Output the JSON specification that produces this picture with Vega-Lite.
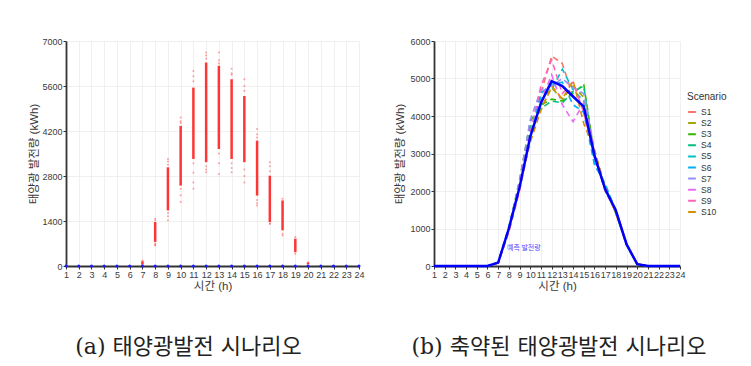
{
  "$schema": "https://vega.github.io/schema/vega-lite/v6.json",
  "padding": {"left": 28, "top": 37, "right": 5, "bottom": 5},
  "background": "white",
  "spacing": 29,
  "config": {
    "font": "Liberation Sans, Noto Sans CJK KR",
    "view": {"stroke": null},
    "axis": {
      "labelFont": "Liberation Sans",
      "labelFontSize": 9,
      "labelColor": "#3a3a3a",
      "labelOverlap": false,
      "tickCount": 40,
      "titleFont": "Liberation Sans, Noto Sans CJK KR",
      "titleFontSize": 11.5,
      "titleFontWeight": "normal",
      "titleColor": "#3a3a3a",
      "gridColor": "#ececec",
      "gridWidth": 0.8,
      "domainColor": "#333333",
      "domainWidth": 1.8,
      "tickColor": "#333333",
      "tickSize": 3,
      "labelPadding": 1
    },
    "title": {
      "font": "DejaVu Serif, Noto Sans CJK KR",
      "fontSize": 22,
      "fontWeight": "normal",
      "color": "#222222"
    }
  },
  "datasets": {
    "strip": [
      {"hour": 7, "lo": 40, "hi": 150},
      {"hour": 8, "lo": 750, "hi": 1370},
      {"hour": 9, "lo": 1730, "hi": 3070},
      {"hour": 10, "lo": 2500, "hi": 4360},
      {"hour": 11, "lo": 3330, "hi": 5550},
      {"hour": 12, "lo": 3230, "hi": 6330},
      {"hour": 13, "lo": 3640, "hi": 6230},
      {"hour": 14, "lo": 3330, "hi": 5810},
      {"hour": 15, "lo": 3230, "hi": 5290},
      {"hour": 16, "lo": 2190, "hi": 3900},
      {"hour": 17, "lo": 1370, "hi": 2810},
      {"hour": 18, "lo": 1110, "hi": 2040},
      {"hour": 19, "lo": 430, "hi": 850},
      {"hour": 20, "lo": 50, "hi": 110}
    ],
    "pts": [
      {"hour": 7, "v": 170},
      {"hour": 8, "v": 1470}, {"hour": 8, "v": 1420}, {"hour": 8, "v": 700}, {"hour": 8, "v": 660}, {"hour": 8, "v": 640},
      {"hour": 9, "v": 3330}, {"hour": 9, "v": 3250}, {"hour": 9, "v": 3150}, {"hour": 9, "v": 1650}, {"hour": 9, "v": 1550}, {"hour": 9, "v": 1420},
      {"hour": 10, "v": 4620}, {"hour": 10, "v": 4500}, {"hour": 10, "v": 4450}, {"hour": 10, "v": 2400}, {"hour": 10, "v": 2200}, {"hour": 10, "v": 1990},
      {"hour": 11, "v": 6070}, {"hour": 11, "v": 5900}, {"hour": 11, "v": 5750}, {"hour": 11, "v": 3200}, {"hour": 11, "v": 2900}, {"hour": 11, "v": 2600}, {"hour": 11, "v": 2400},
      {"hour": 12, "v": 6640}, {"hour": 12, "v": 6550}, {"hour": 12, "v": 6450}, {"hour": 12, "v": 3100}, {"hour": 12, "v": 3000}, {"hour": 12, "v": 2920},
      {"hour": 13, "v": 6640}, {"hour": 13, "v": 6400}, {"hour": 13, "v": 6300}, {"hour": 13, "v": 3500}, {"hour": 13, "v": 3200}, {"hour": 13, "v": 2860},
      {"hour": 14, "v": 6140}, {"hour": 14, "v": 6000}, {"hour": 14, "v": 5950}, {"hour": 14, "v": 3200}, {"hour": 14, "v": 3050}, {"hour": 14, "v": 2920},
      {"hour": 15, "v": 5810}, {"hour": 15, "v": 5600}, {"hour": 15, "v": 5450}, {"hour": 15, "v": 3000}, {"hour": 15, "v": 2800}, {"hour": 15, "v": 2600},
      {"hour": 16, "v": 4260}, {"hour": 16, "v": 4100}, {"hour": 16, "v": 4000}, {"hour": 16, "v": 2050}, {"hour": 16, "v": 1950}, {"hour": 16, "v": 1880},
      {"hour": 17, "v": 3230}, {"hour": 17, "v": 3100}, {"hour": 17, "v": 2950}, {"hour": 17, "v": 1330}, {"hour": 17, "v": 1310},
      {"hour": 18, "v": 2090}, {"hour": 18, "v": 1000}, {"hour": 18, "v": 950},
      {"hour": 19, "v": 900}, {"hour": 19, "v": 380},
      {"hour": 20, "v": 120}
    ],
    "zero": [
      {"hour": 1, "v": 0}, {"hour": 2, "v": 0}, {"hour": 3, "v": 0}, {"hour": 4, "v": 0}, {"hour": 5, "v": 0}, {"hour": 6, "v": 0},
      {"hour": 7, "v": 0}, {"hour": 8, "v": 0}, {"hour": 9, "v": 0}, {"hour": 10, "v": 0}, {"hour": 11, "v": 0}, {"hour": 12, "v": 0},
      {"hour": 13, "v": 0}, {"hour": 14, "v": 0}, {"hour": 15, "v": 0}, {"hour": 16, "v": 0}, {"hour": 17, "v": 0}, {"hour": 18, "v": 0},
      {"hour": 19, "v": 0}, {"hour": 20, "v": 0}, {"hour": 21, "v": 0}, {"hour": 22, "v": 0}, {"hour": 23, "v": 0}, {"hour": 24, "v": 0}
    ],
    "pred": [
      {"hour": 1, "v": 0}, {"hour": 2, "v": 0}, {"hour": 3, "v": 0}, {"hour": 4, "v": 0}, {"hour": 5, "v": 0}, {"hour": 6, "v": 0},
      {"hour": 7, "v": 90}, {"hour": 8, "v": 1000}, {"hour": 9, "v": 2100}, {"hour": 10, "v": 3450}, {"hour": 11, "v": 4350}, {"hour": 12, "v": 4930},
      {"hour": 13, "v": 4800}, {"hour": 14, "v": 4520}, {"hour": 15, "v": 4250}, {"hour": 16, "v": 2950}, {"hour": 17, "v": 2050}, {"hour": 18, "v": 1480},
      {"hour": 19, "v": 580}, {"hour": 20, "v": 50}, {"hour": 21, "v": 0}, {"hour": 22, "v": 0}, {"hour": 23, "v": 0}, {"hour": 24, "v": 0}
    ],
    "label": [{"hour": 9.4, "v": 480, "t": "예측 발전량"}],
    "scen": [
      {"s": "S1", "hour": 1, "v": 0}, {"s": "S1", "hour": 6, "v": 0}, {"s": "S1", "hour": 7, "v": 90}, {"s": "S1", "hour": 8, "v": 1050}, {"s": "S1", "hour": 9, "v": 2200}, {"s": "S1", "hour": 10, "v": 3500}, {"s": "S1", "hour": 11, "v": 4600}, {"s": "S1", "hour": 12, "v": 5600}, {"s": "S1", "hour": 13, "v": 5400}, {"s": "S1", "hour": 14, "v": 4500}, {"s": "S1", "hour": 15, "v": 4300}, {"s": "S1", "hour": 16, "v": 2900}, {"s": "S1", "hour": 17, "v": 2100}, {"s": "S1", "hour": 18, "v": 1450}, {"s": "S1", "hour": 19, "v": 600}, {"s": "S1", "hour": 20, "v": 60}, {"s": "S1", "hour": 21, "v": 0}, {"s": "S1", "hour": 24, "v": 0},
      {"s": "S2", "hour": 1, "v": 0}, {"s": "S2", "hour": 6, "v": 0}, {"s": "S2", "hour": 7, "v": 80}, {"s": "S2", "hour": 8, "v": 950}, {"s": "S2", "hour": 9, "v": 2050}, {"s": "S2", "hour": 10, "v": 3600}, {"s": "S2", "hour": 11, "v": 4200}, {"s": "S2", "hour": 12, "v": 4750}, {"s": "S2", "hour": 13, "v": 4450}, {"s": "S2", "hour": 14, "v": 4800}, {"s": "S2", "hour": 15, "v": 4500}, {"s": "S2", "hour": 16, "v": 3000}, {"s": "S2", "hour": 17, "v": 2000}, {"s": "S2", "hour": 18, "v": 1500}, {"s": "S2", "hour": 19, "v": 570}, {"s": "S2", "hour": 20, "v": 50}, {"s": "S2", "hour": 21, "v": 0}, {"s": "S2", "hour": 24, "v": 0},
      {"s": "S3", "hour": 1, "v": 0}, {"s": "S3", "hour": 6, "v": 0}, {"s": "S3", "hour": 7, "v": 90}, {"s": "S3", "hour": 8, "v": 1000}, {"s": "S3", "hour": 9, "v": 2300}, {"s": "S3", "hour": 10, "v": 3850}, {"s": "S3", "hour": 11, "v": 4300}, {"s": "S3", "hour": 12, "v": 4450}, {"s": "S3", "hour": 13, "v": 4400}, {"s": "S3", "hour": 14, "v": 4600}, {"s": "S3", "hour": 15, "v": 4850}, {"s": "S3", "hour": 16, "v": 2950}, {"s": "S3", "hour": 17, "v": 2100}, {"s": "S3", "hour": 18, "v": 1400}, {"s": "S3", "hour": 19, "v": 590}, {"s": "S3", "hour": 20, "v": 50}, {"s": "S3", "hour": 21, "v": 0}, {"s": "S3", "hour": 24, "v": 0},
      {"s": "S4", "hour": 1, "v": 0}, {"s": "S4", "hour": 6, "v": 0}, {"s": "S4", "hour": 7, "v": 85}, {"s": "S4", "hour": 8, "v": 950}, {"s": "S4", "hour": 9, "v": 2100}, {"s": "S4", "hour": 10, "v": 3700}, {"s": "S4", "hour": 11, "v": 4200}, {"s": "S4", "hour": 12, "v": 4400}, {"s": "S4", "hour": 13, "v": 4350}, {"s": "S4", "hour": 14, "v": 4650}, {"s": "S4", "hour": 15, "v": 4800}, {"s": "S4", "hour": 16, "v": 2900}, {"s": "S4", "hour": 17, "v": 2050}, {"s": "S4", "hour": 18, "v": 1450}, {"s": "S4", "hour": 19, "v": 560}, {"s": "S4", "hour": 20, "v": 50}, {"s": "S4", "hour": 21, "v": 0}, {"s": "S4", "hour": 24, "v": 0},
      {"s": "S5", "hour": 1, "v": 0}, {"s": "S5", "hour": 6, "v": 0}, {"s": "S5", "hour": 7, "v": 90}, {"s": "S5", "hour": 8, "v": 1000}, {"s": "S5", "hour": 9, "v": 2150}, {"s": "S5", "hour": 10, "v": 3500}, {"s": "S5", "hour": 11, "v": 4500}, {"s": "S5", "hour": 12, "v": 4700}, {"s": "S5", "hour": 13, "v": 5250}, {"s": "S5", "hour": 14, "v": 4700}, {"s": "S5", "hour": 15, "v": 4400}, {"s": "S5", "hour": 16, "v": 2750}, {"s": "S5", "hour": 17, "v": 2150}, {"s": "S5", "hour": 18, "v": 1500}, {"s": "S5", "hour": 19, "v": 580}, {"s": "S5", "hour": 20, "v": 50}, {"s": "S5", "hour": 21, "v": 0}, {"s": "S5", "hour": 24, "v": 0},
      {"s": "S6", "hour": 1, "v": 0}, {"s": "S6", "hour": 6, "v": 0}, {"s": "S6", "hour": 7, "v": 95}, {"s": "S6", "hour": 8, "v": 1050}, {"s": "S6", "hour": 9, "v": 2200}, {"s": "S6", "hour": 10, "v": 3550}, {"s": "S6", "hour": 11, "v": 4600}, {"s": "S6", "hour": 12, "v": 4850}, {"s": "S6", "hour": 13, "v": 4900}, {"s": "S6", "hour": 14, "v": 4300}, {"s": "S6", "hour": 15, "v": 4100}, {"s": "S6", "hour": 16, "v": 2700}, {"s": "S6", "hour": 17, "v": 2200}, {"s": "S6", "hour": 18, "v": 1450}, {"s": "S6", "hour": 19, "v": 600}, {"s": "S6", "hour": 20, "v": 55}, {"s": "S6", "hour": 21, "v": 0}, {"s": "S6", "hour": 24, "v": 0},
      {"s": "S7", "hour": 1, "v": 0}, {"s": "S7", "hour": 6, "v": 0}, {"s": "S7", "hour": 7, "v": 90}, {"s": "S7", "hour": 8, "v": 1000}, {"s": "S7", "hour": 9, "v": 2250}, {"s": "S7", "hour": 10, "v": 3900}, {"s": "S7", "hour": 11, "v": 4700}, {"s": "S7", "hour": 12, "v": 4800}, {"s": "S7", "hour": 13, "v": 5000}, {"s": "S7", "hour": 14, "v": 4750}, {"s": "S7", "hour": 15, "v": 4600}, {"s": "S7", "hour": 16, "v": 3100}, {"s": "S7", "hour": 17, "v": 2050}, {"s": "S7", "hour": 18, "v": 1500}, {"s": "S7", "hour": 19, "v": 590}, {"s": "S7", "hour": 20, "v": 50}, {"s": "S7", "hour": 21, "v": 0}, {"s": "S7", "hour": 24, "v": 0},
      {"s": "S8", "hour": 1, "v": 0}, {"s": "S8", "hour": 6, "v": 0}, {"s": "S8", "hour": 7, "v": 80}, {"s": "S8", "hour": 8, "v": 900}, {"s": "S8", "hour": 9, "v": 2000}, {"s": "S8", "hour": 10, "v": 3400}, {"s": "S8", "hour": 11, "v": 4400}, {"s": "S8", "hour": 12, "v": 5100}, {"s": "S8", "hour": 13, "v": 4300}, {"s": "S8", "hour": 14, "v": 3850}, {"s": "S8", "hour": 15, "v": 4350}, {"s": "S8", "hour": 16, "v": 3050}, {"s": "S8", "hour": 17, "v": 2000}, {"s": "S8", "hour": 18, "v": 1450}, {"s": "S8", "hour": 19, "v": 560}, {"s": "S8", "hour": 20, "v": 45}, {"s": "S8", "hour": 21, "v": 0}, {"s": "S8", "hour": 24, "v": 0},
      {"s": "S9", "hour": 1, "v": 0}, {"s": "S9", "hour": 6, "v": 0}, {"s": "S9", "hour": 7, "v": 90}, {"s": "S9", "hour": 8, "v": 1000}, {"s": "S9", "hour": 9, "v": 2150}, {"s": "S9", "hour": 10, "v": 3550}, {"s": "S9", "hour": 11, "v": 4800}, {"s": "S9", "hour": 12, "v": 5500}, {"s": "S9", "hour": 13, "v": 4600}, {"s": "S9", "hour": 14, "v": 4900}, {"s": "S9", "hour": 15, "v": 4100}, {"s": "S9", "hour": 16, "v": 2950}, {"s": "S9", "hour": 17, "v": 2050}, {"s": "S9", "hour": 18, "v": 1500}, {"s": "S9", "hour": 19, "v": 600}, {"s": "S9", "hour": 20, "v": 50}, {"s": "S9", "hour": 21, "v": 0}, {"s": "S9", "hour": 24, "v": 0},
      {"s": "S10", "hour": 1, "v": 0}, {"s": "S10", "hour": 6, "v": 0}, {"s": "S10", "hour": 7, "v": 85}, {"s": "S10", "hour": 8, "v": 950}, {"s": "S10", "hour": 9, "v": 2100}, {"s": "S10", "hour": 10, "v": 3300}, {"s": "S10", "hour": 11, "v": 4150}, {"s": "S10", "hour": 12, "v": 4800}, {"s": "S10", "hour": 13, "v": 4450}, {"s": "S10", "hour": 14, "v": 4950}, {"s": "S10", "hour": 15, "v": 3800}, {"s": "S10", "hour": 16, "v": 3100}, {"s": "S10", "hour": 17, "v": 2100}, {"s": "S10", "hour": 18, "v": 1400}, {"s": "S10", "hour": 19, "v": 570}, {"s": "S10", "hour": 20, "v": 50}, {"s": "S10", "hour": 21, "v": 0}, {"s": "S10", "hour": 24, "v": 0}
    ]
  },
  "hconcat": [
    {
      "width": 293,
      "height": 225,
      "title": {"text": "(a) 태양광발전 시나리오", "orient": "bottom", "anchor": "middle", "frame": "bounds", "offset": 45, "dx": -8},
      "layer": [
        {
          "data": {"name": "strip"},
          "mark": {"type": "rule", "color": "#ff2020", "strokeWidth": 2.5, "opacity": 0.9},
          "encoding": {
            "x": {"field": "hour", "type": "quantitative", "scale": {"domain": [1, 24], "nice": false, "zero": false},
                  "axis": {"title": "시간 (h)", "values": [1,2,3,4,5,6,7,8,9,10,11,12,13,14,15,16,17,18,19,20,21,22,23,24], "tickCount": 40, "format": "d", "titlePadding": 1, "labelFlush": false, "labelOverlap": false}},
            "y": {"field": "lo", "type": "quantitative", "scale": {"domain": [0, 7000], "nice": false},
                  "axis": {"title": "태양광 발전량 (kWh)", "values": [0, 1400, 2800, 4200, 5600, 7000], "tickCount": 40, "format": "d", "titlePadding": 2, "labelOverlap": false}},
            "y2": {"field": "hi"}
          }
        },
        {
          "data": {"name": "pts"},
          "mark": {"type": "circle", "color": "#ff3030", "size": 4, "opacity": 0.45},
          "encoding": {
            "x": {"field": "hour", "type": "quantitative"},
            "y": {"field": "v", "type": "quantitative"}
          }
        },
        {
          "data": {"name": "zero"},
          "mark": {"type": "circle", "color": "#1a1aff", "size": 9, "opacity": 1},
          "encoding": {
            "x": {"field": "hour", "type": "quantitative"},
            "y": {"field": "v", "type": "quantitative"}
          }
        }
      ]
    },
    {
      "width": 246,
      "height": 225,
      "title": {"text": "(b) 축약된 태양광발전 시나리오", "orient": "bottom", "anchor": "middle", "frame": "bounds", "offset": 45, "dx": 19},
      "layer": [
        {
          "data": {"name": "scen"},
          "mark": {"type": "line", "strokeWidth": 1.6, "strokeDash": [6, 4]},
          "encoding": {
            "x": {"field": "hour", "type": "quantitative", "scale": {"domain": [1, 24], "nice": false, "zero": false},
                  "axis": {"title": "시간 (h)", "values": [1,2,3,4,5,6,7,8,9,10,11,12,13,14,15,16,17,18,19,20,21,22,23,24], "tickCount": 40, "format": "d", "titlePadding": 1, "labelFlush": false, "labelOverlap": false}},
            "y": {"field": "v", "type": "quantitative", "scale": {"domain": [0, 6000], "nice": false},
                  "axis": {"title": "태양광 발전량 (kWh)", "values": [0, 1000, 2000, 3000, 4000, 5000, 6000], "tickCount": 40, "format": "d", "titlePadding": 4, "labelOverlap": false}},
            "color": {"field": "s", "type": "nominal",
                      "scale": {"domain": ["S1","S2","S3","S4","S5","S6","S7","S8","S9","S10"],
                                "range": ["#F8766D","#A3A500","#39B600","#00BF7D","#00BFC4","#00B0F6","#9590FF","#E76BF3","#FF62BC","#D89000"]},
                      "legend": {"title": "Scenario", "orient": "none", "legendX": 621, "legendY": 51,
                                 "symbolType": "stroke", "symbolStrokeWidth": 2, "symbolSize": 60, "symbolDash": [4, 0],
                                 "titleFontSize": 10, "titleFontWeight": "normal", "titleColor": "#333", "titleFont": "Liberation Sans",
                                 "labelFontSize": 8.5, "labelColor": "#333", "labelFont": "Liberation Sans",
                                 "rowPadding": 1.1, "titlePadding": 5}}
          }
        },
        {
          "data": {"name": "pred"},
          "mark": {"type": "line", "color": "#0000ff", "strokeWidth": 2.5},
          "encoding": {
            "x": {"field": "hour", "type": "quantitative"},
            "y": {"field": "v", "type": "quantitative"}
          }
        },
        {
          "data": {"name": "label"},
          "mark": {"type": "text", "color": "#4a4aff", "fontSize": 7, "font": "Noto Sans CJK KR"},
          "encoding": {
            "x": {"field": "hour", "type": "quantitative"},
            "y": {"field": "v", "type": "quantitative"},
            "text": {"field": "t"}
          }
        }
      ]
    }
  ]
}
